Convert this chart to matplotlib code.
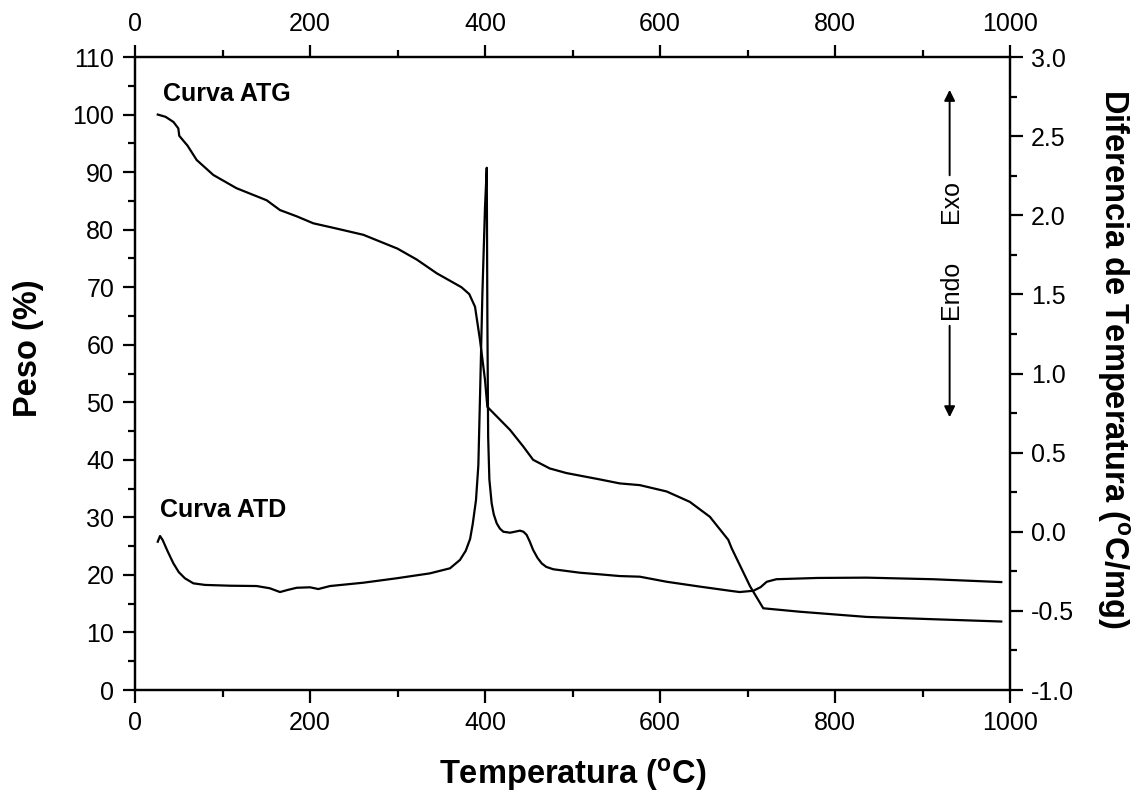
import numpy as np
import matplotlib
matplotlib.use("Agg")
import matplotlib.pyplot as plt
from matplotlib.ticker import MultipleLocator

plt.rcParams['font.family'] = ['Liberation Sans', 'DejaVu Sans']
plt.rcParams['axes.unicode_minus'] = False
plt.rcParams['mathtext.fontset'] = 'custom'
plt.rcParams['mathtext.rm'] = 'Liberation Sans'
plt.rcParams['mathtext.bf'] = 'Liberation Sans:bold'

# curva ATG (peso %, eje izquierdo)
atg_t = [26, 35, 44, 49.5, 50.6, 60, 70.5, 89.5, 116, 150.5, 165.7, 185, 203.8, 230, 261,
         300, 322, 345, 373, 382, 388.6, 394.3, 400, 402.7, 415, 428.6, 443.8, 455, 474, 493,
         531, 554, 577, 607.6, 634, 657, 678, 682, 703, 718, 760, 836, 912, 990]
atg_w = [100, 99.6, 98.7, 97.6, 96.3, 94.6, 92.1, 89.5, 87.2, 85.1, 83.4, 82.3, 81.1, 80.2, 79.1,
         76.7, 74.8, 72.4, 70.0, 68.8, 66.6, 60.8, 53.9, 49.2, 47.3, 45.2, 42.3, 40.0, 38.5, 37.7,
         36.6, 35.9, 35.6, 34.5, 32.7, 30.1, 26.1, 24.6, 18.0, 14.2, 13.6, 12.7, 12.3, 11.9]

# curva ATD (diferencia de temperatura, eje derecho)
atd_t = [26, 28.6, 31.6, 37, 43.8, 50, 57, 66.7, 80, 108.6, 139, 154, 165.7, 175, 184.8,
         200, 209.5, 222.9, 261, 299, 337, 360, 371.4, 378, 383, 386, 389.7, 392.4, 394.5, 397,
         400, 402, 402.7, 403.6, 405, 407.6, 410, 413.4, 417, 421, 428.6, 434, 440, 444, 447.6,
         451, 455, 460, 464.8, 470, 478, 508.6, 531, 554, 577, 607.6, 646, 680, 691, 706.7,
         715, 722, 733, 780, 836, 912, 990]
atd_d = [-0.063, -0.027, -0.052, -0.12, -0.199, -0.255, -0.294, -0.326, -0.336, -0.341,
         -0.343, -0.357, -0.381, -0.367, -0.354, -0.351, -0.362, -0.343, -0.322, -0.294,
         -0.263, -0.231, -0.178, -0.12, -0.045, 0.05, 0.2, 0.42, 0.9, 1.5,
         2.05, 2.30, 1.36, 0.6, 0.33, 0.18, 0.11, 0.053, 0.02, 0.0,
         -0.006, 0.0, 0.007, 0.0, -0.02, -0.06, -0.115, -0.165, -0.2, -0.222,
         -0.237, -0.259, -0.269, -0.28, -0.284, -0.316, -0.347, -0.373, -0.381, -0.373,
         -0.35, -0.316, -0.30, -0.292, -0.29, -0.30, -0.318]

fig = plt.figure(figsize=(11.33, 7.95), dpi=100)
ax = fig.add_axes([135 / 1133, 1 - 690 / 795, 875 / 1133, 633 / 795])
ax2 = ax.twinx()

ax.plot(atg_t, atg_w, color='k', lw=1.6)
ax2.plot(atd_t, atd_d, color='k', lw=1.6)

ax.set_xlim(0, 1000)
ax.set_ylim(0, 110)
ax2.set_ylim(-1.0, 3.0)

ax.xaxis.set_major_locator(MultipleLocator(200))
ax.xaxis.set_minor_locator(MultipleLocator(100))
ax.yaxis.set_major_locator(MultipleLocator(10))
ax.yaxis.set_minor_locator(MultipleLocator(5))
ax2.yaxis.set_major_locator(MultipleLocator(0.5))
ax2.yaxis.set_minor_locator(MultipleLocator(0.25))
ax2.yaxis.set_major_formatter(plt.FormatStrFormatter('%.1f'))

for a in (ax, ax2):
    for s in a.spines.values():
        s.set_linewidth(1.6)
ax.tick_params(axis='x', which='both', top=True, labeltop=True, direction='out')
ax.tick_params(which='major', length=9, width=1.6, labelsize=18, pad=6)
ax.tick_params(which='minor', length=5, width=1.6)
ax2.tick_params(which='major', length=9, width=1.6, labelsize=18, pad=6)
ax2.tick_params(which='minor', length=5, width=1.6)

ax.set_xlabel(r'Temperatura ($\mathbf{^o}$C)', fontsize=23.5, fontweight='bold')
ax.xaxis.set_label_coords(0.5, -0.105)
ax.set_ylabel('Peso (%)', fontsize=23.5, fontweight='bold')
ax.yaxis.set_label_coords(-0.104, 0.54)
ax2.set_ylabel(r'Diferencia de Temperatura ($\mathbf{^o}$C/mg)', fontsize=23.5,
               fontweight='bold', rotation=270, va='center')
ax2.yaxis.set_label_coords(1.118, 0.523)

ax.text(32, 102.4, 'Curva ATG', fontsize=18, fontweight='bold', va='baseline')
ax.text(29, 30.1, 'Curva ATD', fontsize=18, fontweight='bold', va='baseline')

ax2.annotate('', xy=(931, 2.81), xytext=(931, 2.235),
             arrowprops=dict(arrowstyle='-|>', color='k', lw=1.4, mutation_scale=16))
ax2.annotate('', xy=(931, 0.706), xytext=(931, 1.319),
             arrowprops=dict(arrowstyle='-|>', color='k', lw=1.4, mutation_scale=16))
ax2.text(933, 2.084, 'Exo', fontsize=18, rotation=90, ha='center', va='center')
ax2.text(933, 1.528, 'Endo', fontsize=18, rotation=90, ha='center', va='center')

fig.savefig('out.png', dpi=100)
